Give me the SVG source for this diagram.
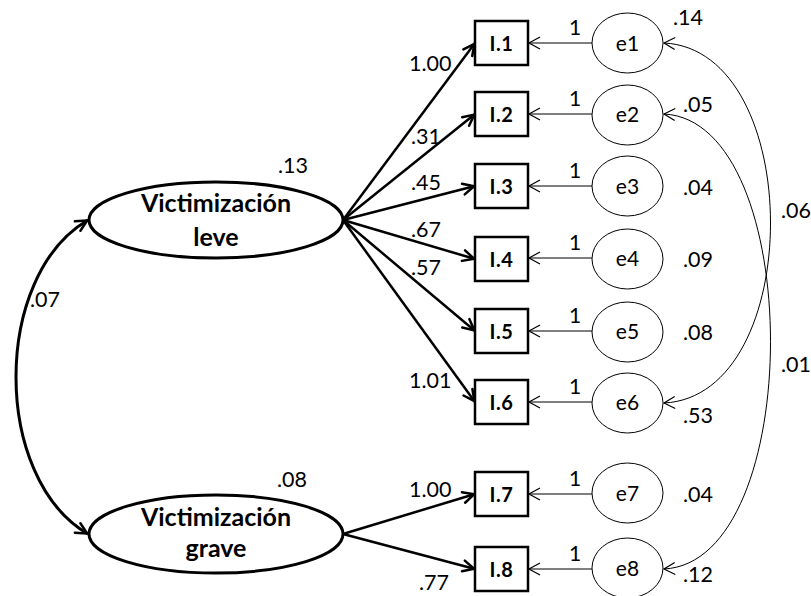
<svg xmlns="http://www.w3.org/2000/svg" width="811" height="596" viewBox="0 0 811 596">
  <style>
    .num { font-family: Lato, "Liberation Sans", sans-serif; font-size: 21.5px; fill: #000; }
    .lbl { font-family: Lato, "Liberation Sans", sans-serif; font-size: 21px; fill: #000; text-anchor: middle; }
    .box-t { font-family: Lato, "Liberation Sans", sans-serif; font-size: 20px; font-weight: bold; fill: #000; text-anchor: middle; letter-spacing: 0.5px; }
    .lat-t { font-family: Lato, "Liberation Sans", sans-serif; font-size: 25px; font-weight: bold; fill: #000; text-anchor: middle; }
    .latent { fill: #fff; stroke: #000; stroke-width: 3; }
    .obs { fill: #fff; stroke: #000; stroke-width: 2.5; }
    .err { fill: #fff; stroke: #000; stroke-width: 1; }
    .load { fill: none; stroke: #000; stroke-width: 2.5; marker-end: url(#headThick); }
    .eline { fill: none; stroke: #000; stroke-width: 1.2; marker-end: url(#headThin); }
    .cov { fill: none; stroke: #000; stroke-width: 1; marker-start: url(#headThin); marker-end: url(#headThin); }
    .cov-l { fill: none; stroke: #000; stroke-width: 3; marker-start: url(#headThick); marker-end: url(#headThick); }
  </style>
  <defs>
    <marker id="headThick" viewBox="-16 -8 18 16" refX="0" refY="0" markerWidth="18" markerHeight="16" markerUnits="userSpaceOnUse" orient="auto-start-reverse">
      <path d="M-12,-5.5 L-1,0 L-12,5.5" fill="none" stroke="#000" stroke-width="2.5" stroke-linejoin="round" stroke-linecap="round"/>
    </marker>
    <marker id="headThin" viewBox="-14 -8 16 16" refX="0" refY="0" markerWidth="16" markerHeight="16" markerUnits="userSpaceOnUse" orient="auto-start-reverse">
      <path d="M-11,-6 L0,0 L-11,6" fill="none" stroke="#000" stroke-width="1.2"/>
    </marker>
  </defs>

  <!-- connectors -->
  <g id="connectors">
    <!-- factor loadings -->
    <path class="load" d="M343,220 L475,43"/>
    <path class="load" d="M343,220 L475,114"/>
    <path class="load" d="M343,220 L475,186"/>
    <path class="load" d="M343,220 L475,259"/>
    <path class="load" d="M343,220 L475,331"/>
    <path class="load" d="M343,220 L475,402"/>
    <path class="load" d="M343,534 L475,494"/>
    <path class="load" d="M343,534 L475,569"/>
    <!-- error paths -->
    <path class="eline" d="M592,43 L529,43"/>
    <path class="eline" d="M592,114 L529,114"/>
    <path class="eline" d="M592,186 L529,186"/>
    <path class="eline" d="M592,258 L529,258"/>
    <path class="eline" d="M592,331 L529,331"/>
    <path class="eline" d="M592,402 L529,402"/>
    <path class="eline" d="M592,494 L529,494"/>
    <path class="eline" d="M592,569 L529,569"/>
    <!-- error covariances -->
    <path class="cov" d="M664,43 C806,50 806,396 664,403"/>
    <path class="cov" d="M664,114 C806,121 806,562 664,569"/>
    <!-- factor covariance -->
    <path class="cov-l" d="M88,220 C-8,276 -8,478 88,534"/>
  </g>

  <!-- latent factors -->
  <g id="victimizacion-leve">
    <ellipse class="latent" cx="216" cy="220" rx="127" ry="38"/>
    <text class="lat-t" x="216" y="212">Victimización</text>
    <text class="lat-t" x="216" y="246">leve</text>
    <text class="num" x="278" y="173">.13</text>
  </g>
  <g id="victimizacion-grave">
    <ellipse class="latent" cx="216" cy="534" rx="127" ry="39"/>
    <text class="lat-t" x="216" y="526">Victimización</text>
    <text class="lat-t" x="216" y="557">grave</text>
    <text class="num" x="277" y="487">.08</text>
  </g>

  <!-- observed items -->
  <g id="I1"><rect class="obs" x="475" y="21" width="53" height="44"/><text class="box-t" x="501.5" y="51">I.1</text></g>
  <g id="I2"><rect class="obs" x="475" y="92" width="53" height="44"/><text class="box-t" x="501.5" y="122">I.2</text></g>
  <g id="I3"><rect class="obs" x="475" y="164" width="53" height="44"/><text class="box-t" x="501.5" y="194">I.3</text></g>
  <g id="I4"><rect class="obs" x="475" y="237" width="53" height="44"/><text class="box-t" x="501.5" y="267">I.4</text></g>
  <g id="I5"><rect class="obs" x="475" y="309" width="53" height="44"/><text class="box-t" x="501.5" y="339">I.5</text></g>
  <g id="I6"><rect class="obs" x="475" y="380" width="53" height="44"/><text class="box-t" x="501.5" y="410">I.6</text></g>
  <g id="I7"><rect class="obs" x="475" y="472" width="53" height="44"/><text class="box-t" x="501.5" y="502">I.7</text></g>
  <g id="I8"><rect class="obs" x="475" y="547" width="53" height="44"/><text class="box-t" x="501.5" y="577">I.8</text></g>

  <!-- error terms -->
  <g id="e1"><ellipse class="err" cx="627.5" cy="43" rx="35.5" ry="30"/><text class="lbl" x="627.5" y="51">e1</text></g>
  <g id="e2"><ellipse class="err" cx="627.5" cy="115" rx="35.5" ry="30"/><text class="lbl" x="627.5" y="122">e2</text></g>
  <g id="e3"><ellipse class="err" cx="627.5" cy="186" rx="35.5" ry="30"/><text class="lbl" x="627.5" y="194">e3</text></g>
  <g id="e4"><ellipse class="err" cx="627.5" cy="259" rx="35.5" ry="30"/><text class="lbl" x="627.5" y="266">e4</text></g>
  <g id="e5"><ellipse class="err" cx="627.5" cy="332" rx="35.5" ry="30"/><text class="lbl" x="627.5" y="339">e5</text></g>
  <g id="e6"><ellipse class="err" cx="627.5" cy="403" rx="35.5" ry="30"/><text class="lbl" x="627.5" y="410">e6</text></g>
  <g id="e7"><ellipse class="err" cx="627.5" cy="493" rx="35.5" ry="30"/><text class="lbl" x="627.5" y="501">e7</text></g>
  <g id="e8"><ellipse class="err" cx="627.5" cy="568" rx="35.5" ry="30"/><text class="lbl" x="627.5" y="576">e8</text></g>

  <!-- loading labels -->
  <g id="loading-labels">
    <text class="num" x="409" y="71">1.00</text>
    <text class="num" x="411" y="144">.31</text>
    <text class="num" x="411" y="190">.45</text>
    <text class="num" x="411" y="237">.67</text>
    <text class="num" x="411" y="275">.57</text>
    <text class="num" x="409" y="388">1.01</text>
    <text class="num" x="409" y="497">1.00</text>
    <text class="num" x="419" y="590">.77</text>
  </g>

  <!-- error path weights -->
  <g id="error-weights">
    <text class="lbl" x="575" y="35">1</text>
    <text class="lbl" x="575" y="106">1</text>
    <text class="lbl" x="575" y="178">1</text>
    <text class="lbl" x="575" y="250">1</text>
    <text class="lbl" x="575" y="323">1</text>
    <text class="lbl" x="575" y="394">1</text>
    <text class="lbl" x="575" y="486">1</text>
    <text class="lbl" x="575" y="561">1</text>
  </g>

  <!-- variances and covariances -->
  <g id="variance-labels">
    <text class="num" x="673" y="25">.14</text>
    <text class="num" x="683" y="112">.05</text>
    <text class="num" x="683" y="195">.04</text>
    <text class="num" x="683" y="267">.09</text>
    <text class="num" x="683" y="340">.08</text>
    <text class="num" x="683" y="423">.53</text>
    <text class="num" x="683" y="502">.04</text>
    <text class="num" x="683" y="582">.12</text>
    <text class="num" x="781" y="218">.06</text>
    <text class="num" x="781" y="372">.01</text>
    <text class="num" x="30" y="307">.07</text>
  </g>
</svg>
